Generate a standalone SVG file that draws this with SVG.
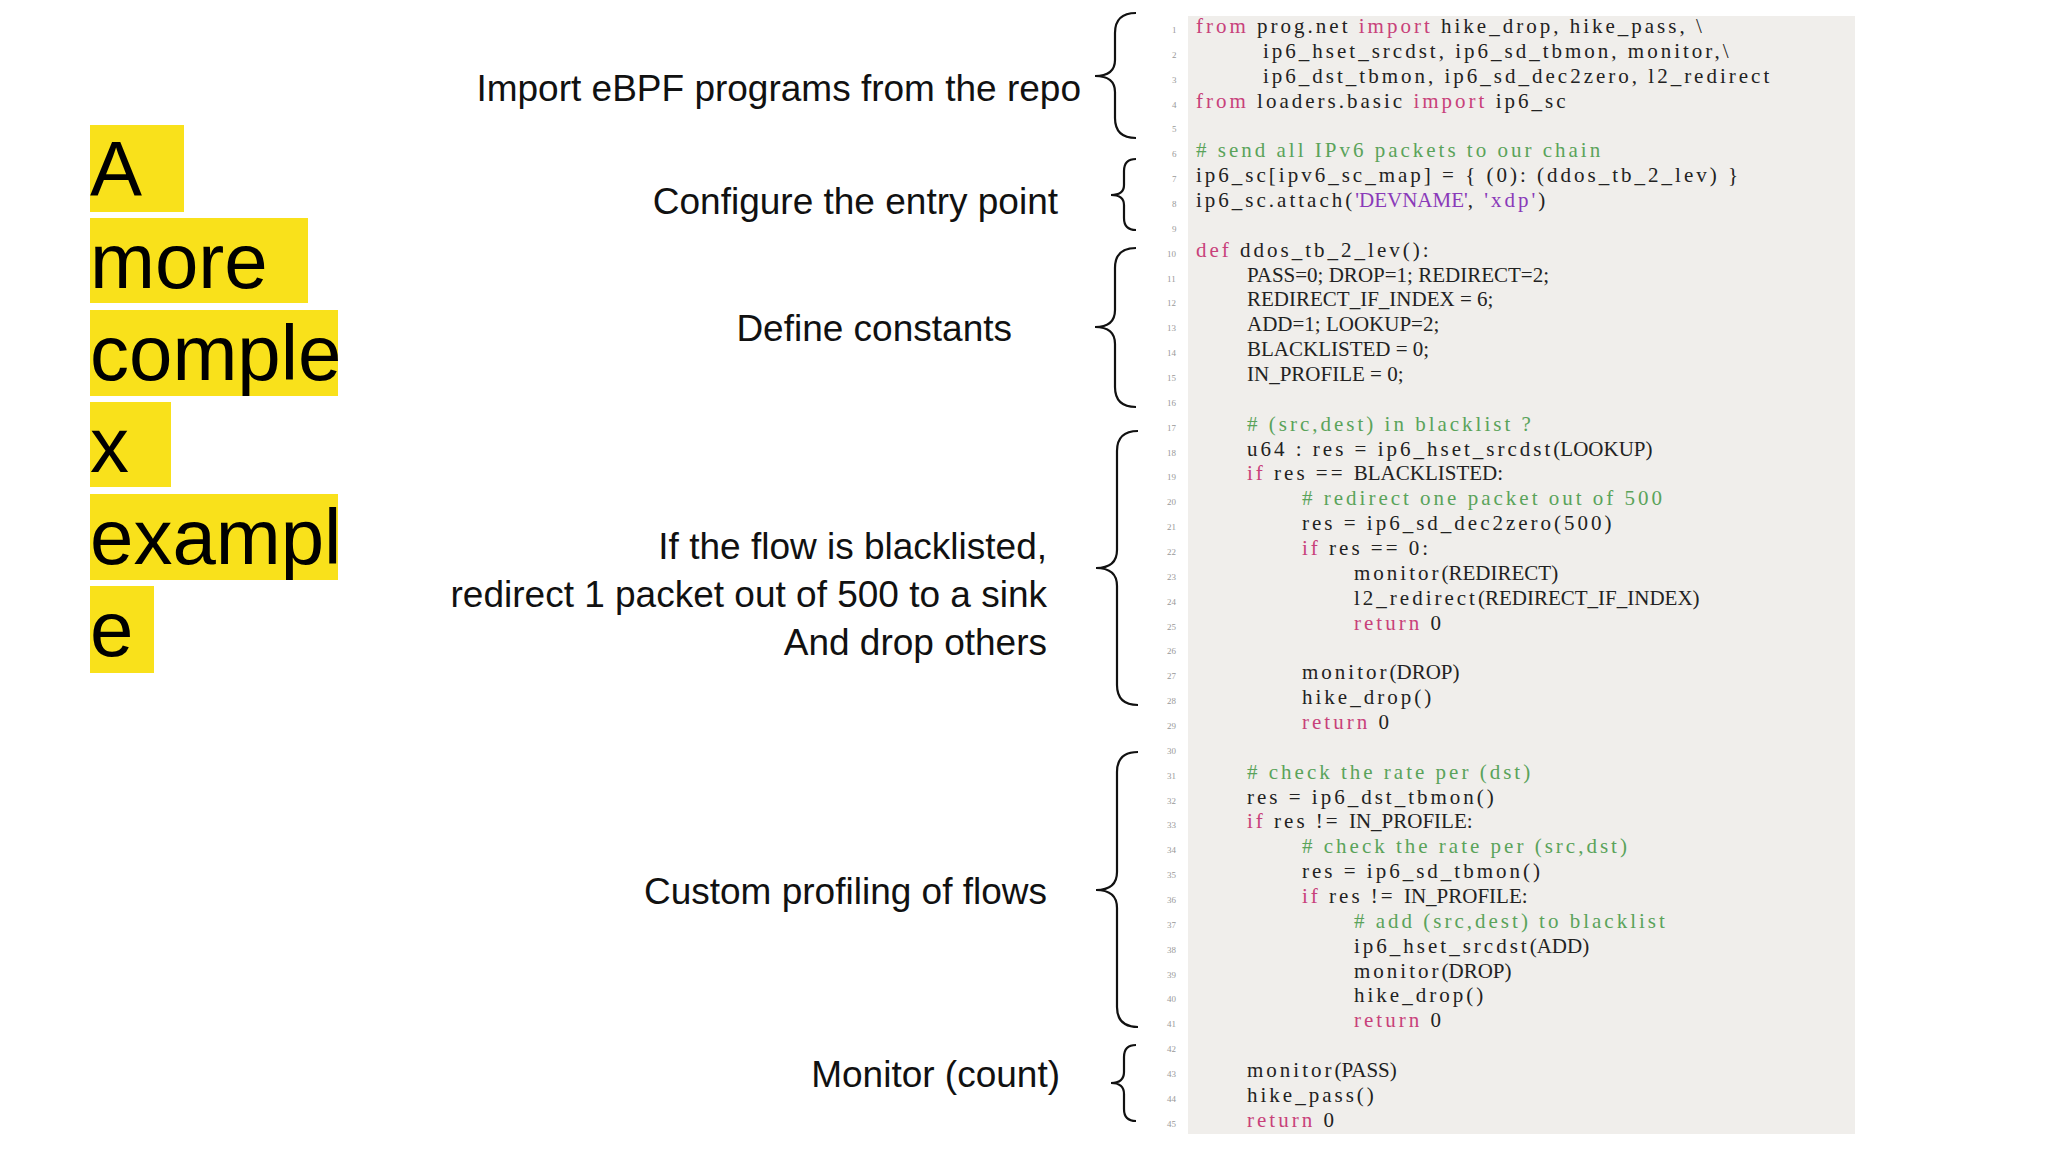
<svg xmlns="http://www.w3.org/2000/svg" width="2048" height="1152" viewBox="0 0 2048 1152">
<style>
.t{font-family:"Liberation Sans",Arial,sans-serif;font-size:78px;fill:#000}
.hl{fill:#f9e11b}
.lab{font-family:"Liberation Sans",Arial,sans-serif;font-size:37px;fill:#111;text-anchor:end}
.c{font-family:"Liberation Serif","Times New Roman",serif;font-size:21px;fill:#222;letter-spacing:3px}
.u{letter-spacing:0}
.k{fill:#c8417a}
.m{fill:#5aa35a}
.s{fill:#8a3ab9}
.n{font-family:"Liberation Serif",serif;font-size:9px;fill:#999}
.br{fill:none;stroke:#111;stroke-width:2.2}
</style>
<rect width="2048" height="1152" fill="#fff"/>
<g id="title">
<rect class="hl" x="90" y="125" width="94" height="87"/>
<rect class="hl" x="90" y="218" width="218" height="85"/>
<rect class="hl" x="90" y="310" width="248" height="86"/>
<rect class="hl" x="90" y="402" width="81" height="85"/>
<rect class="hl" x="90" y="494" width="248" height="86"/>
<rect class="hl" x="90" y="586" width="64" height="87"/>
<text class="t" x="90" y="196">A</text>
<text class="t" x="90" y="288">more</text>
<text class="t" x="90" y="380">comple</text>
<text class="t" x="90" y="472">x</text>
<text class="t" x="90" y="564">exampl</text>
<text class="t" x="90" y="656">e</text>
</g>
<g id="code">
<rect x="1188" y="16" width="667" height="1118" fill="#f0eeeb"/>
<g class="n">
<text x="1172" y="33">1</text><text x="1172" y="58">2</text><text x="1172" y="83">3</text><text x="1172" y="108">4</text><text x="1172" y="132">5</text><text x="1172" y="157">6</text><text x="1172" y="182">7</text><text x="1172" y="207">8</text><text x="1172" y="232">9</text><text x="1167" y="257">10</text><text x="1167" y="282">11</text><text x="1167" y="306">12</text><text x="1167" y="331">13</text><text x="1167" y="356">14</text><text x="1167" y="381">15</text><text x="1167" y="406">16</text><text x="1167" y="431">17</text><text x="1167" y="456">18</text><text x="1167" y="480">19</text><text x="1167" y="505">20</text><text x="1167" y="530">21</text><text x="1167" y="555">22</text><text x="1167" y="580">23</text><text x="1167" y="605">24</text><text x="1167" y="630">25</text><text x="1167" y="654">26</text><text x="1167" y="679">27</text><text x="1167" y="704">28</text><text x="1167" y="729">29</text><text x="1167" y="754">30</text><text x="1167" y="779">31</text><text x="1167" y="804">32</text><text x="1167" y="828">33</text><text x="1167" y="853">34</text><text x="1167" y="878">35</text><text x="1167" y="903">36</text><text x="1167" y="928">37</text><text x="1167" y="953">38</text><text x="1167" y="978">39</text><text x="1167" y="1002">40</text><text x="1167" y="1027">41</text><text x="1167" y="1052">42</text><text x="1167" y="1077">43</text><text x="1167" y="1102">44</text><text x="1167" y="1127">45</text>
</g>
<text class="c" x="1196" y="33"><tspan class="k">from</tspan> prog.net <tspan class="k">import</tspan> hike_drop, hike_pass,  \</text>
<text class="c" x="1263" y="58">ip6_hset_srcdst, ip6_sd_tbmon, monitor,\</text>
<text class="c" x="1263" y="83">ip6_dst_tbmon, ip6_sd_dec2zero, l2_redirect</text>
<text class="c" x="1196" y="108"><tspan class="k">from</tspan> loaders.basic <tspan class="k">import</tspan> ip6_sc</text>
<text class="c m" x="1196" y="157"># send all IPv6 packets to our chain</text>
<text class="c" x="1196" y="182">ip6_sc[ipv6_sc_map] = { (0): (ddos_tb_2_lev) }</text>
<text class="c" x="1196" y="207">ip6_sc.attach(<tspan class="s u">'DEVNAME'</tspan>, <tspan class="s">'xdp'</tspan>)</text>
<text class="c" x="1196" y="257"><tspan class="k">def</tspan> ddos_tb_2_lev():</text>
<text class="c u" x="1247" y="282">PASS=0; DROP=1; REDIRECT=2;</text>
<text class="c u" x="1247" y="306">REDIRECT_IF_INDEX = 6;</text>
<text class="c u" x="1247" y="331">ADD=1; LOOKUP=2;</text>
<text class="c u" x="1247" y="356">BLACKLISTED = 0;</text>
<text class="c u" x="1247" y="381">IN_PROFILE = 0;</text>
<text class="c m" x="1247" y="431"># (src,dest) in blacklist ?</text>
<text class="c" x="1247" y="456">u64 : res = ip6_hset_srcdst<tspan class="u">(LOOKUP)</tspan></text>
<text class="c" x="1247" y="480"><tspan class="k">if</tspan> res == <tspan class="u">BLACKLISTED:</tspan></text>
<text class="c m" x="1302" y="505"># redirect one packet out of 500</text>
<text class="c" x="1302" y="530">res = ip6_sd_dec2zero(500)</text>
<text class="c" x="1302" y="555"><tspan class="k">if</tspan> res == 0:</text>
<text class="c" x="1354" y="580">monitor<tspan class="u">(REDIRECT)</tspan></text>
<text class="c" x="1354" y="605">l2_redirect<tspan class="u">(REDIRECT_IF_INDEX)</tspan></text>
<text class="c" x="1354" y="630"><tspan class="k">return</tspan> 0</text>
<text class="c" x="1302" y="679">monitor<tspan class="u">(DROP)</tspan></text>
<text class="c" x="1302" y="704">hike_drop()</text>
<text class="c" x="1302" y="729"><tspan class="k">return</tspan> 0</text>
<text class="c m" x="1247" y="779"># check the rate per (dst)</text>
<text class="c" x="1247" y="804">res = ip6_dst_tbmon()</text>
<text class="c" x="1247" y="828"><tspan class="k">if</tspan> res != <tspan class="u">IN_PROFILE:</tspan></text>
<text class="c m" x="1302" y="853"># check the rate per (src,dst)</text>
<text class="c" x="1302" y="878">res = ip6_sd_tbmon()</text>
<text class="c" x="1302" y="903"><tspan class="k">if</tspan> res != <tspan class="u">IN_PROFILE:</tspan></text>
<text class="c m" x="1354" y="928"># add (src,dest) to blacklist</text>
<text class="c" x="1354" y="953">ip6_hset_srcdst<tspan class="u">(ADD)</tspan></text>
<text class="c" x="1354" y="978">monitor<tspan class="u">(DROP)</tspan></text>
<text class="c" x="1354" y="1002">hike_drop()</text>
<text class="c" x="1354" y="1027"><tspan class="k">return</tspan> 0</text>
<text class="c" x="1247" y="1077">monitor<tspan class="u">(PASS)</tspan></text>
<text class="c" x="1247" y="1102">hike_pass()</text>
<text class="c" x="1247" y="1127"><tspan class="k">return</tspan> 0</text>
</g>
<g id="connectors">
<path class="br" d="M1136,13 Q1115,13 1115,33 L1115,60 Q1115,76 1095,76 Q1115,76 1115,92 L1115,118 Q1115,138 1136,138"/>
<path class="br" d="M1136,159 Q1124,159 1124,171 L1124,185 Q1124,195 1111,195 Q1124,195 1124,205 L1124,218 Q1124,230 1136,230"/>
<path class="br" d="M1136,248 Q1115,248 1115,268 L1115,310 Q1115,327 1095,327 Q1115,327 1115,344 L1115,387 Q1115,407 1136,407"/>
<path class="br" d="M1138,431 Q1117,431 1117,451 L1117,550 Q1117,568 1096,568 Q1117,568 1117,586 L1117,685 Q1117,705 1138,705"/>
<path class="br" d="M1138,752 Q1117,752 1117,772 L1117,872 Q1117,890 1096,890 Q1117,890 1117,908 L1117,1007 Q1117,1027 1138,1027"/>
<path class="br" d="M1136,1045 Q1124,1045 1124,1057 L1124,1072 Q1124,1083 1111,1083 Q1124,1083 1124,1094 L1124,1109 Q1124,1121 1136,1121"/>
</g>
<g id="label-import"><text class="lab" x="1081" y="101">Import eBPF programs from the repo</text></g>
<g id="label-entry"><text class="lab" x="1058" y="214">Configure the entry point</text></g>
<g id="label-constants"><text class="lab" x="1012" y="341">Define constants</text></g>
<g id="label-blacklist">
<text class="lab" x="1047" y="559">If the flow is blacklisted,</text>
<text class="lab" x="1047" y="607">redirect 1 packet out of 500 to a sink</text>
<text class="lab" x="1047" y="655">And drop others</text>
</g>
<g id="label-profiling"><text class="lab" x="1047" y="904">Custom profiling of flows</text></g>
<g id="label-monitor"><text class="lab" x="1060" y="1087">Monitor (count)</text></g>
</svg>
